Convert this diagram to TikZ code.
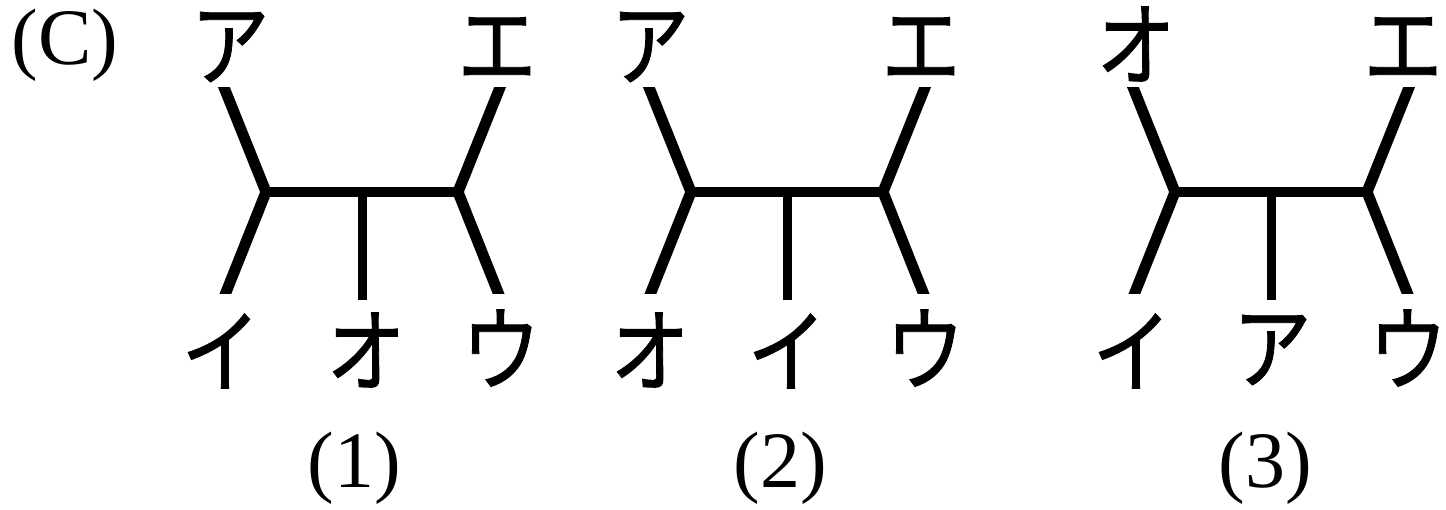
\documentclass[tikz,border=0pt]{standalone}
\usepackage{fontspec}
\usepackage{graphicx}
\setmainfont{Liberation Serif}
\newfontfamily\jpfont[FakeBold=1]{Noto Sans CJK JP}
\newcommand{\kn}[1]{\scalebox{0.86}[1]{\jpfont\fontsize{92}{92}\selectfont #1}}
\begin{document}
\begin{tikzpicture}[x=1pt,y=-1pt,
  kana/.style={inner sep=0pt},
  num/.style={font=\fontsize{80}{80}\selectfont, inner sep=0pt},
  branch/.style={line width=11pt, line join=miter, line cap=butt},
  stem/.style={line width=9pt, line cap=butt}]
\useasboundingbox (0,0) rectangle (1446,509);
\node[num] (C) at (65,45) {(C)};
\foreach \ox/\idx in {0/1, 425/2, 909/3}{
  \begin{scope}[xshift=\ox]
    \coordinate (L\idx) at (266,192);
    \coordinate (R\idx) at (458,192);
    \coordinate (M\idx) at (362,192);
    \coordinate (Mb\idx) at (362,300);
    \begin{scope}
      \clip (0,87) rectangle (600,293);
      \draw[branch] (205,40) -- (L\idx) -- (205,345);
      \draw[branch] (519,40) -- (R\idx) -- (519,345);
    \end{scope}
    \draw[branch,line width=10pt] (L\idx) -- (R\idx);
    \draw[stem] (M\idx) -- (Mb\idx);
  \end{scope}
}
% tree 1 labels
\node[kana] (a1) at (230,47) {\kn{ア}};
\node[kana] (e1) at (497,48) {\kn{エ}};
\node[kana] (i1) at (221,351) {\kn{イ}};
\node[kana] (o1) at (366,350) {\kn{オ}};
\node[kana] (u1) at (501,348) {\kn{ウ}};
\node[num] (n1) at (354,468) {(1)};
% tree 2 labels
\node[kana] (a2) at (650,47) {\kn{ア}};
\node[kana] (e2) at (921,48) {\kn{エ}};
\node[kana] (o2) at (650,350) {\kn{オ}};
\node[kana] (i2) at (787,351) {\kn{イ}};
\node[kana] (u2) at (925,348) {\kn{ウ}};
\node[num] (n2) at (780,468) {(2)};
% tree 3 labels
\node[kana] (o3) at (1136,44) {\kn{オ}};
\node[kana] (e3) at (1403,48) {\kn{エ}};
\node[kana] (i3) at (1132,351) {\kn{イ}};
\node[kana] (a3) at (1272,350) {\kn{ア}};
\node[kana] (u3) at (1408,348) {\kn{ウ}};
\node[num] (n3) at (1265,468) {(3)};
\end{tikzpicture}
\end{document}
